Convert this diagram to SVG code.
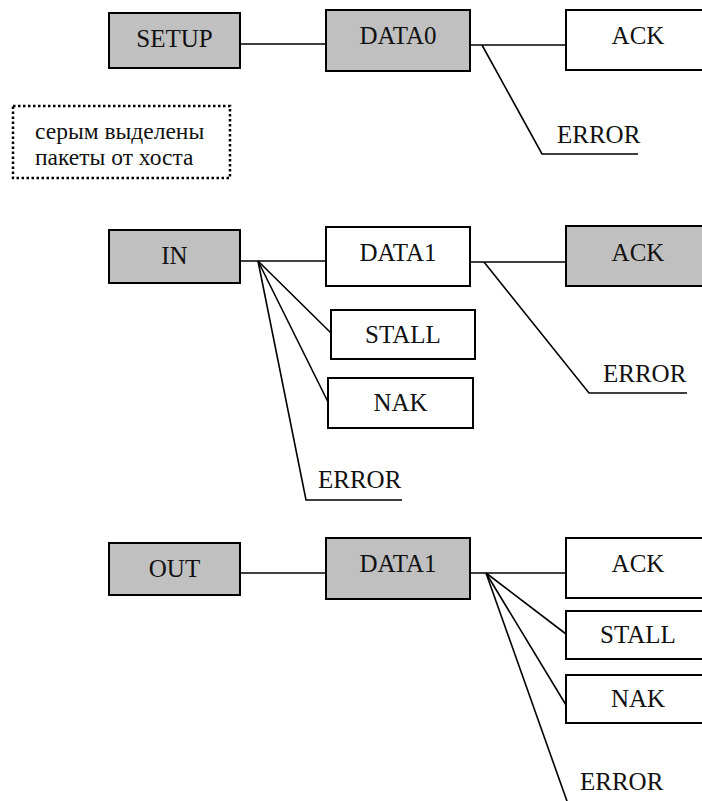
<svg xmlns="http://www.w3.org/2000/svg" width="702" height="801" viewBox="0 0 702 801">
<style>
.box{stroke:#000;stroke-width:2}
.host{fill:#c0c0c0}
.dev{fill:#fff}
.t{font-family:"Liberation Serif","Times New Roman",serif;font-size:25px;fill:#111;text-anchor:middle}
.e{font-family:"Liberation Serif","Times New Roman",serif;font-size:25px;fill:#111}
.c{stroke:#000;stroke-width:1.6;fill:none}
.note{font-family:"Liberation Serif","Times New Roman",serif;font-size:23.5px;fill:#111}
</style>
<rect width="702" height="801" fill="#fff"/>
<g id="connectors">
<line class="c" x1="240" y1="44" x2="326" y2="44"/>
<line class="c" x1="470" y1="45" x2="566" y2="45"/>
<polyline class="c" points="482,45 542,154 638,154"/>
<line class="c" x1="240" y1="261" x2="326" y2="261"/>
<line class="c" x1="258" y1="261" x2="331" y2="333"/>
<line class="c" x1="258" y1="261" x2="330" y2="406"/>
<polyline class="c" points="258,261 306,500 402,500"/>
<line class="c" x1="470" y1="262" x2="566" y2="262"/>
<polyline class="c" points="484,262 589,393 687,393"/>
<line class="c" x1="240" y1="573" x2="326" y2="573"/>
<line class="c" x1="470" y1="573" x2="566" y2="573"/>
<line class="c" x1="486" y1="573" x2="566" y2="634"/>
<line class="c" x1="486" y1="573" x2="566" y2="705"/>
<line class="c" x1="486" y1="573" x2="568" y2="804"/>
</g>
<g id="setup"><rect class="box host" x="109" y="13" width="131" height="55"/><text class="t" x="174.5" y="47">SETUP</text></g>
<g id="data0"><rect class="box host" x="326" y="10" width="144" height="61"/><text class="t" x="398" y="44">DATA0</text></g>
<g id="ack1"><rect class="box dev" x="566" y="10" width="144" height="60"/><text class="t" x="638" y="44">ACK</text></g>
<g id="error1"><text class="e" x="557" y="143">ERROR</text></g>
<g id="note"><rect x="13" y="106" width="217" height="72" fill="none" stroke="#000" stroke-width="2.5" stroke-dasharray="2.5,2.5"/><text class="note" x="35" y="139">серым выделены</text><text class="note" x="35" y="165">пакеты от хоста</text></g>
<g id="in"><rect class="box host" x="109" y="230" width="131" height="53"/><text class="t" x="174.5" y="264">IN</text></g>
<g id="data1a"><rect class="box dev" x="326" y="227" width="144" height="59"/><text class="t" x="398" y="261">DATA1</text></g>
<g id="ack2"><rect class="box host" x="566" y="226" width="144" height="60"/><text class="t" x="638" y="261">ACK</text></g>
<g id="stall1"><rect class="box dev" x="331" y="310" width="144" height="49"/><text class="t" x="403" y="343">STALL</text></g>
<g id="nak1"><rect class="box dev" x="328" y="378" width="145" height="50"/><text class="t" x="400.5" y="411">NAK</text></g>
<g id="error2"><text class="e" x="603" y="382">ERROR</text></g>
<g id="error3"><text class="e" x="318" y="488">ERROR</text></g>
<g id="out"><rect class="box host" x="109" y="543" width="131" height="52"/><text class="t" x="174.5" y="577">OUT</text></g>
<g id="data1b"><rect class="box host" x="326" y="538" width="144" height="61"/><text class="t" x="398" y="572">DATA1</text></g>
<g id="ack3"><rect class="box dev" x="566" y="538" width="144" height="60"/><text class="t" x="638" y="572">ACK</text></g>
<g id="stall2"><rect class="box dev" x="566" y="611" width="144" height="48"/><text class="t" x="638" y="643">STALL</text></g>
<g id="nak2"><rect class="box dev" x="566" y="675" width="144" height="48"/><text class="t" x="638" y="707">NAK</text></g>
<g id="error4"><text class="e" x="580" y="790">ERROR</text></g>
</svg>
